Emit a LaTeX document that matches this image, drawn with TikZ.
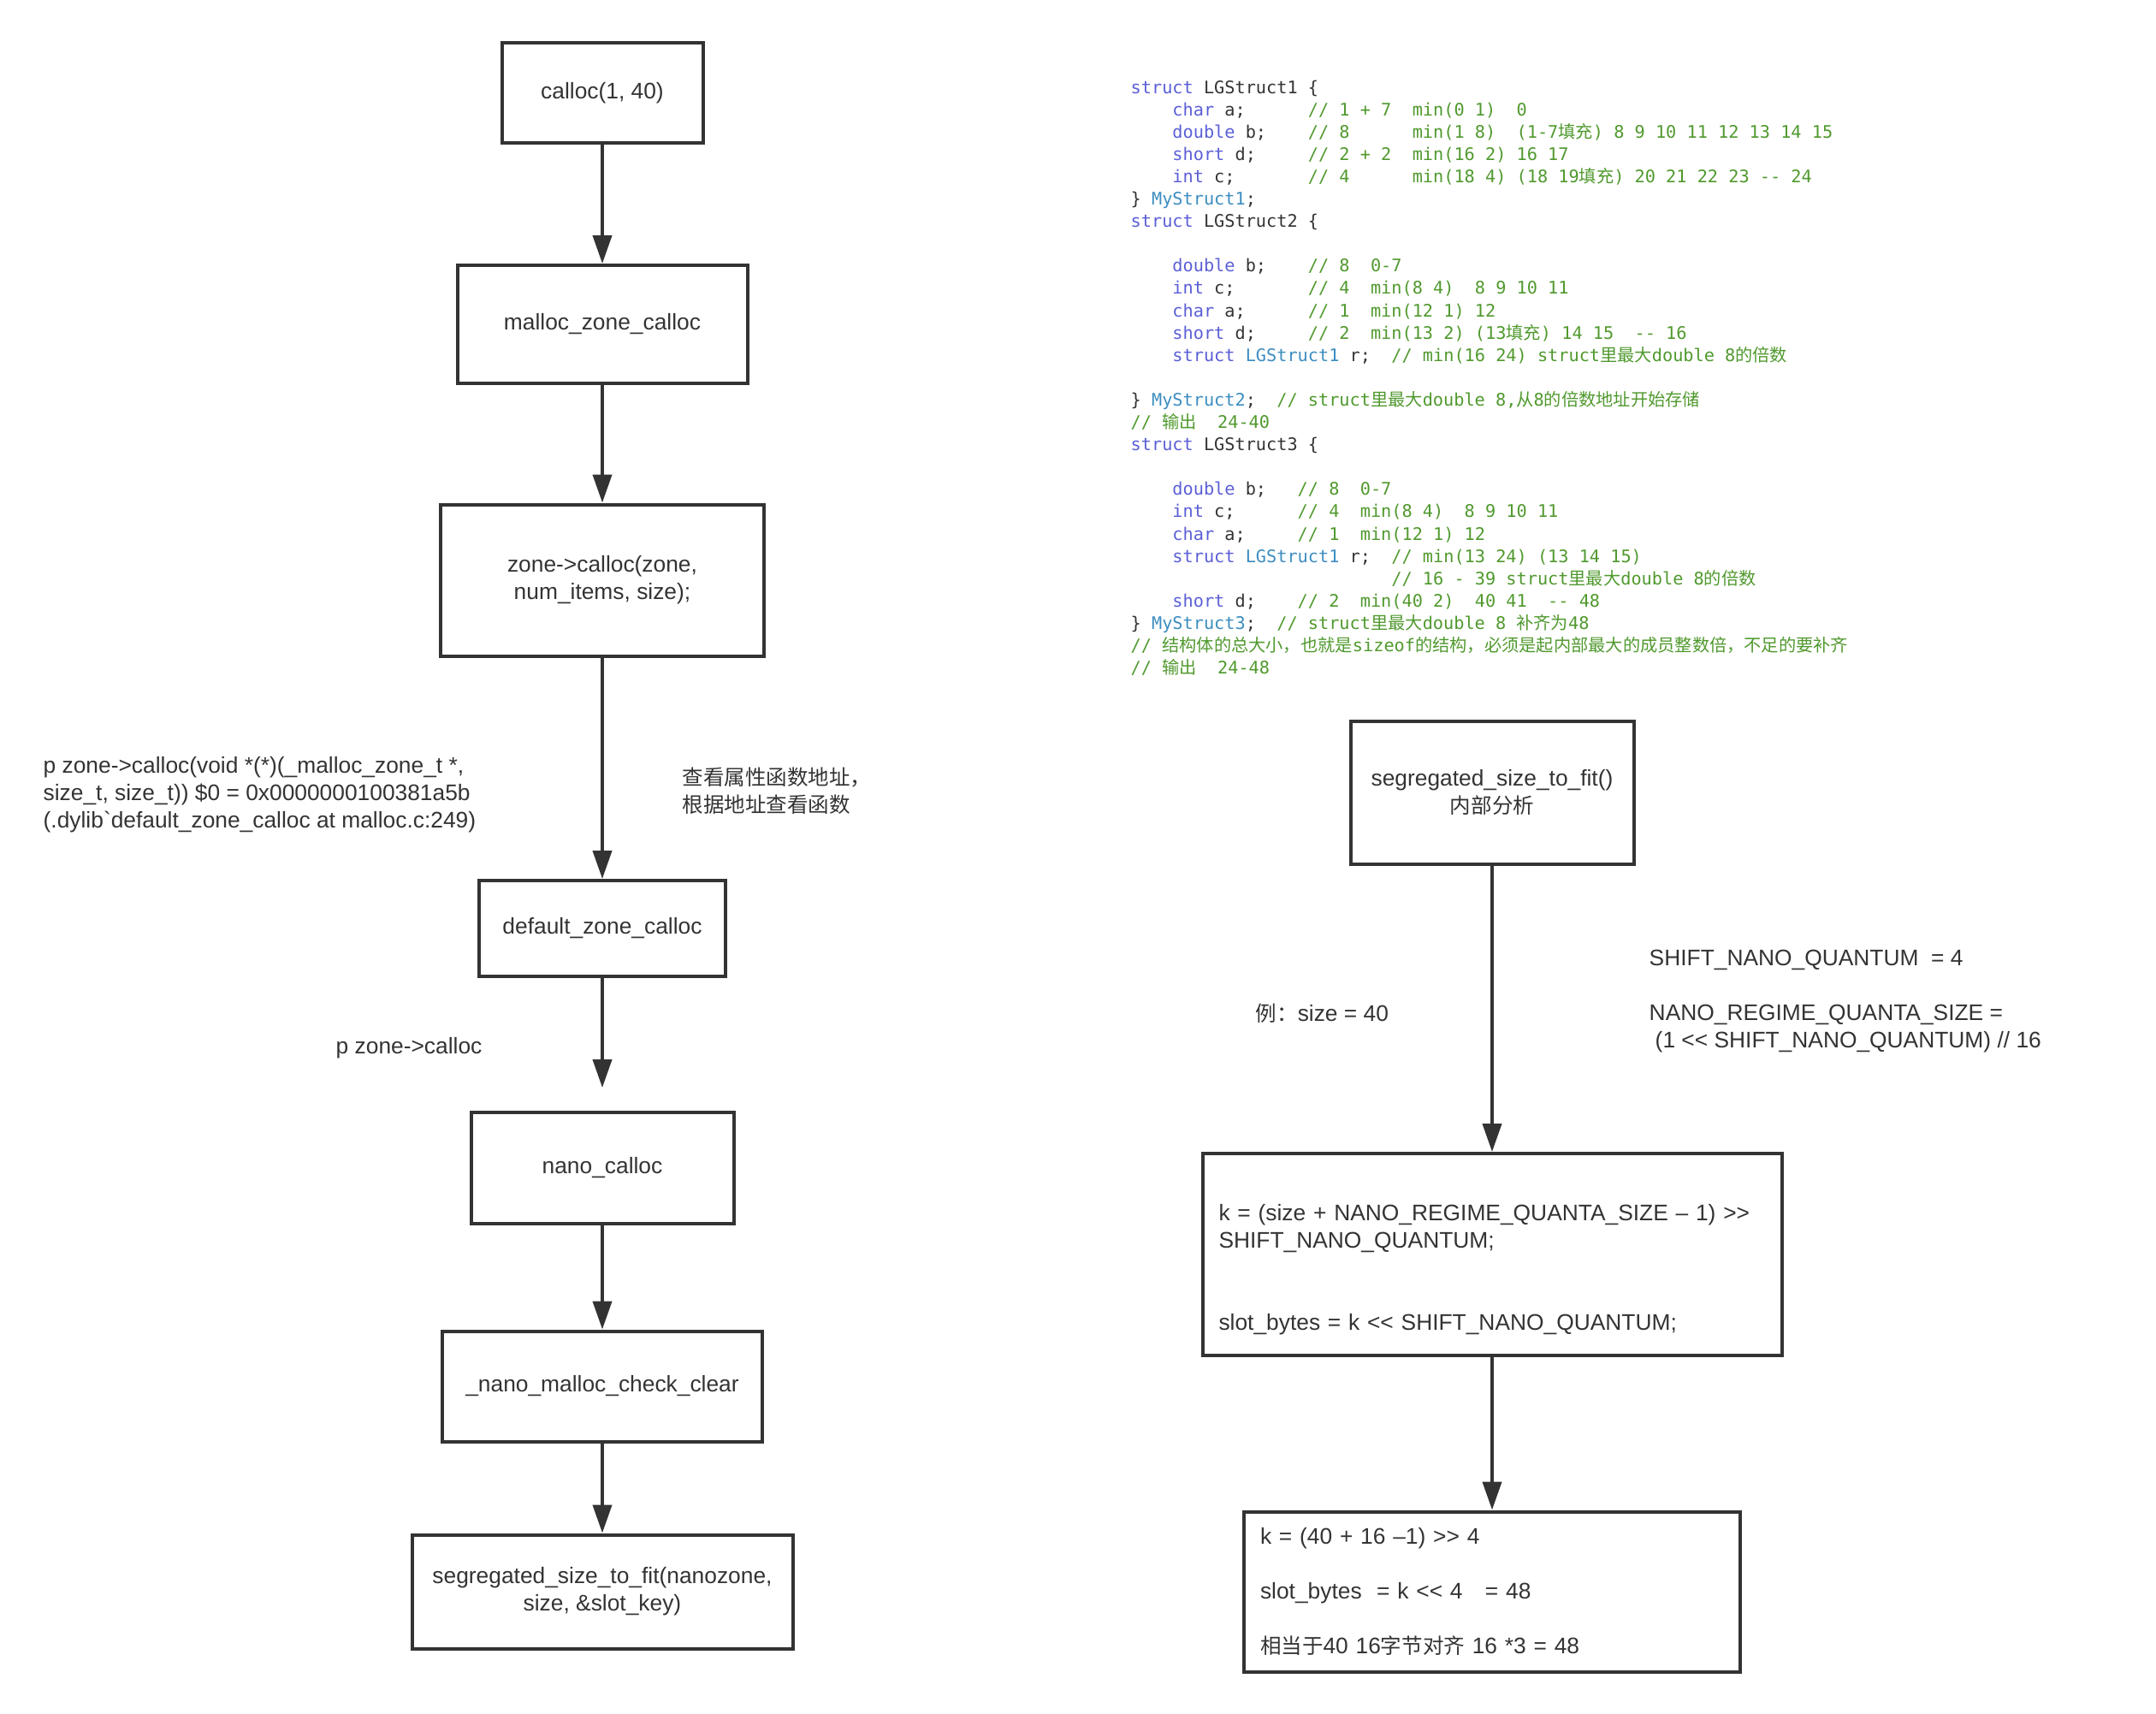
\documentclass[tikz,border=0pt]{standalone}
\usepackage{fontspec}
\newfontfamily\sans{Liberation Sans}
\newfontfamily\zh[Scale=0.93]{Noto Sans CJK SC}
\newfontfamily\codefont{DejaVu Sans Mono}
\newfontfamily\codezh{Noto Sans CJK SC}
\usetikzlibrary{arrows.meta}

\definecolor{ink}{HTML}{333333}
\definecolor{kwblue}{HTML}{5B5FD6}
\definecolor{tyblue}{HTML}{3C8DC0}
\definecolor{cmgreen}{HTML}{50992E}

% code colouring
\newcommand\kw[1]{\textcolor{kwblue}{#1}}
\newcommand\ty[1]{\textcolor{tyblue}{#1}}
\newcommand\cmt[1]{\textcolor{cmgreen}{#1}}
\newcommand\czh[1]{{\codezh #1}}
\newcommand\gap[1]{\hskip#1\fontcharwd\font`0\relax}

\begin{document}
\begin{tikzpicture}[font=\fontsize{7.5pt}{9.1pt}\sans, text=ink,
    box/.style={draw=ink, line width=0.04cm, inner sep=0.19cm, align=center},
    flow/.style={draw=ink, line width=0.04cm, -{Triangle[length=0.33cm,width=0.22cm]}},
    note/.style={anchor=west, inner sep=0, align=left},
    codeline/.style={anchor=base west, inner sep=0, font=\fontsize{5.76pt}{7.43pt}\codefont}]

    \useasboundingbox (0,0) rectangle (25.2,-20.02);

    % left chain
    \node [box, minimum width=2.35cm, minimum height=1.17cm] (calloc) at (7.04,-1.085) {calloc(1, 40)};
    \node [box, minimum width=3.39cm, minimum height=1.38cm] (mzc) at (7.04,-3.79) {malloc\_zone\_calloc};
    \node [box, minimum width=3.78cm, minimum height=1.77cm] (zcalloc) at (7.04,-6.78) {zone->calloc(zone,\\num\_items, size);};
    \node [box, minimum width=2.88cm, minimum height=1.12cm] (dzc) at (7.04,-10.85) {default\_zone\_calloc};
    \node [box, minimum width=3.07cm, minimum height=1.30cm] (nanoc) at (7.04,-13.65) {nano\_calloc};
    \node [box, minimum width=3.74cm, minimum height=1.29cm] (chkclr) at (7.04,-16.20) {\_nano\_malloc\_check\_clear};
    \node [box, minimum width=4.45cm, minimum height=1.33cm] (ssfit) at (7.04,-18.60) {segregated\_size\_to\_fit(nanozone,\\size, \&slot\_key)};

    \draw [flow] (calloc) -- (mzc);
    \draw [flow] (mzc) -- (zcalloc);
    \draw [flow] (zcalloc) -- (dzc);
    \draw [flow, shorten >=0.27cm] (dzc) -- (nanoc);
    \draw [flow] (nanoc) -- (chkclr);
    \draw [flow] (chkclr) -- (ssfit);

    \node [note] (lldb) at (0.50,-9.29) {p zone->calloc(void *(*)(\_malloc\_zone\_t *,\\size\_t, size\_t)) \$0 = 0x0000000100381a5b\\(.dylib`default\_zone\_calloc at malloc.c:249)};
    \node [note] (lookup) at (7.97,-9.24) {{\zh 查看属性函数地址，}\\{\zh 根据地址查看函数}};
    \node [note] (pcalloc) at (3.92,-12.25) {p zone->calloc};

    % right chain
    \node [box, minimum width=3.31cm, minimum height=1.67cm] (ssfitin) at (17.44,-9.26) {segregated\_size\_to\_fit()\\{\zh 内部分析}};
    \node [box, align=left, text width=6.39cm, minimum height=2.36cm] (kcalc) at (17.44,-14.66)
        {\strut\\k = (size + NANO\_REGIME\_QUANTA\_SIZE – 1) >>\\SHIFT\_NANO\_QUANTUM;\\\mbox{}\\\mbox{}\\slot\_bytes = k << SHIFT\_NANO\_QUANTUM;};
    \node [box, align=left, text width=5.42cm, minimum height=1.85cm] (kex) at (17.44,-18.60)
        {k = (40 + 16 –1) >> 4\\\mbox{}\\slot\_bytes\ \ = k << 4\ \ \ = 48\\\mbox{}\\{\zh 相当于}40 16{\zh 字节对齐} 16 *3 = 48};

    \draw [flow] (ssfitin) -- (kcalc);
    \draw [flow] (kcalc) -- (kex);

    \node [note] (example) at (14.67,-11.84) {{\zh 例：}size = 40};
    \node [note] (consts) at (19.27,-11.70) {SHIFT\_NANO\_QUANTUM\ \ = 4\\\mbox{}\\NANO\_REGIME\_QUANTA\_SIZE =\\\hspace*{0.07cm}(1 << SHIFT\_NANO\_QUANTUM) // 16};

    % struct layout listing, one node per row
    \foreach \row/\txt in {
        0/{\kw{struct} LGStruct1 \{},
        1/{\gap{4}\kw{char} a;\gap{6}\cmt{// 1 + 7\gap{2}min(0 1)\gap{2}0}},
        2/{\gap{4}\kw{double} b;\gap{4}\cmt{// 8\gap{6}min(1 8)\gap{2}(1-7\czh{填充}) 8 9 10 11 12 13 14 15}},
        3/{\gap{4}\kw{short} d;\gap{5}\cmt{// 2 + 2\gap{2}min(16 2) 16 17}},
        4/{\gap{4}\kw{int} c;\gap{7}\cmt{// 4\gap{6}min(18 4) (18 19\czh{填充}) 20 21 22 23 -- 24}},
        5/{\} \ty{MyStruct1};},
        6/{\kw{struct} LGStruct2 \{},
        8/{\gap{4}\kw{double} b;\gap{4}\cmt{// 8\gap{2}0-7}},
        9/{\gap{4}\kw{int} c;\gap{7}\cmt{// 4\gap{2}min(8 4)\gap{2}8 9 10 11}},
        10/{\gap{4}\kw{char} a;\gap{6}\cmt{// 1\gap{2}min(12 1) 12}},
        11/{\gap{4}\kw{short} d;\gap{5}\cmt{// 2\gap{2}min(13 2) (13\czh{填充}) 14 15\gap{2}-- 16}},
        12/{\gap{4}\kw{struct} \ty{LGStruct1} r;\gap{2}\cmt{// min(16 24) struct\czh{里最大}double 8\czh{的倍数}}},
        14/{\} \ty{MyStruct2};\gap{2}\cmt{// struct\czh{里最大}double 8,\czh{从}8\czh{的倍数地址开始存储}}},
        15/{\cmt{// \czh{输出}\gap{2}24-40}},
        16/{\kw{struct} LGStruct3 \{},
        18/{\gap{4}\kw{double} b;\gap{3}\cmt{// 8\gap{2}0-7}},
        19/{\gap{4}\kw{int} c;\gap{6}\cmt{// 4\gap{2}min(8 4)\gap{2}8 9 10 11}},
        20/{\gap{4}\kw{char} a;\gap{5}\cmt{// 1\gap{2}min(12 1) 12}},
        21/{\gap{4}\kw{struct} \ty{LGStruct1} r;\gap{2}\cmt{// min(13 24) (13 14 15)}},
        22/{\gap{25}\cmt{// 16 - 39 struct\czh{里最大}double 8\czh{的倍数}}},
        23/{\gap{4}\kw{short} d;\gap{4}\cmt{// 2\gap{2}min(40 2)\gap{2}40 41\gap{2}-- 48}},
        24/{\} \ty{MyStruct3};\gap{2}\cmt{// struct\czh{里最大}double 8 \czh{补齐为}48}},
        25/{\cmt{// \czh{结构体的总大小，也就是}sizeof\czh{的结构，必须是起内部最大的成员整数倍，不足的要补齐}}},
        26/{\cmt{// \czh{输出}\gap{2}24-48}}}
        \node [codeline] (c\row) at (13.21,{-1.09-0.261*\row}) {\txt};

\end{tikzpicture}
\end{document}
